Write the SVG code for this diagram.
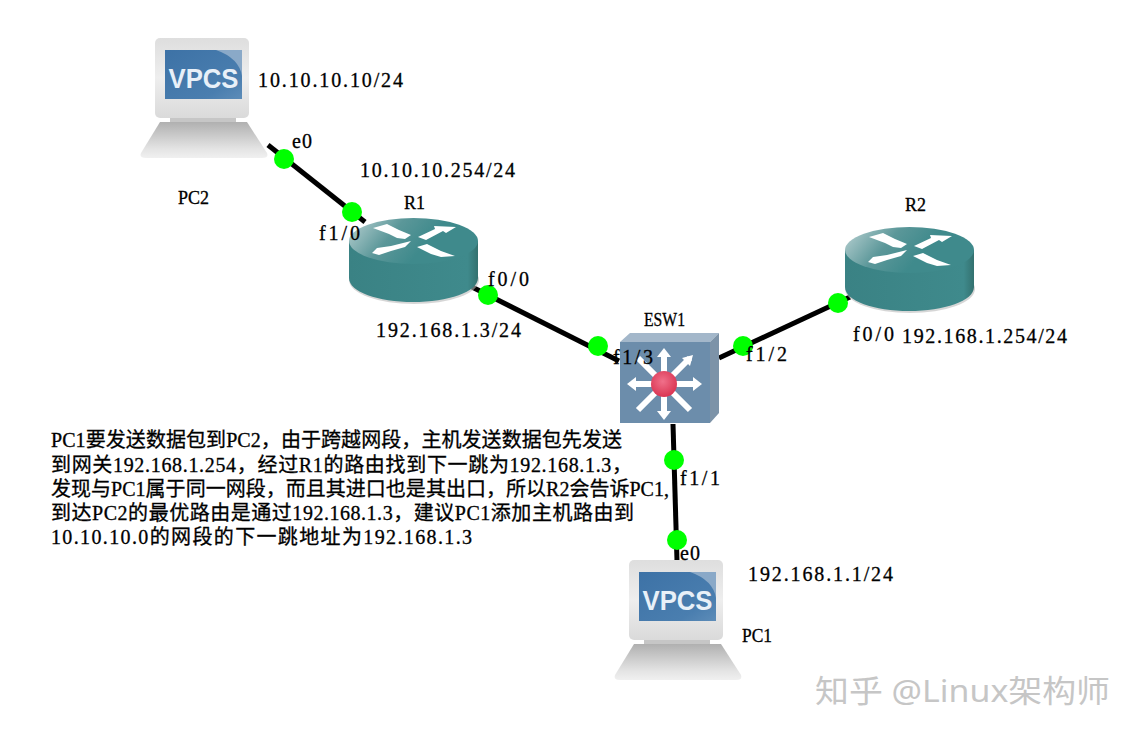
<svg xmlns="http://www.w3.org/2000/svg" width="1138" height="738" viewBox="0 0 1138 738">
<style>
text{font-family:"Liberation Serif","Noto Sans CJK SC",serif;fill:#000;font-size:20px;stroke:#000;stroke-width:0.3}
.n{font-size:18px}
.p{font-size:20px}
.link{stroke:#000;stroke-width:5;fill:none}
.dot{fill:#0f0}
.wm{font-family:"Noto Sans","Noto Sans CJK SC",sans-serif;font-size:31px;fill:#c6c6c6;stroke:none}
.vt{font-family:"Liberation Sans",sans-serif;font-weight:700;font-size:27px;fill:#e8f0f8;stroke:none}
</style>
<defs>
<linearGradient id="rt" x1="0" y1="0" x2="1" y2="0.3"><stop offset="0" stop-color="#bcd3d4"/><stop offset="0.4" stop-color="#5b9799"/><stop offset="0.7" stop-color="#3f8a8c"/><stop offset="1" stop-color="#3f8a8c"/></linearGradient>
<linearGradient id="rs" x1="0" y1="0" x2="1" y2="0"><stop offset="0" stop-color="#3a8284"/><stop offset="0.92" stop-color="#3f8a8c"/><stop offset="1" stop-color="#33716f"/></linearGradient>
<linearGradient id="mon" x1="0" y1="0" x2="0" y2="1"><stop offset="0" stop-color="#dedede"/><stop offset="0.5" stop-color="#eeeeee"/><stop offset="1" stop-color="#dadada"/></linearGradient>
<linearGradient id="base" x1="0" y1="0" x2="0" y2="1"><stop offset="0" stop-color="#b0b0b0"/><stop offset="0.75" stop-color="#e4e4e4"/><stop offset="1" stop-color="#f0f0f0"/></linearGradient>
<linearGradient id="scr" x1="0" y1="0" x2="1" y2="1"><stop offset="0" stop-color="#3d72a6"/><stop offset="0.75" stop-color="#4a7eaf"/><stop offset="1" stop-color="#5d8cb8"/></linearGradient>
<radialGradient id="red" cx="0.45" cy="0.4" r="0.65"><stop offset="0" stop-color="#f0708a"/><stop offset="1" stop-color="#d8304e"/></radialGradient>
<g id="router">
<ellipse cx="65" cy="62" rx="65" ry="24" fill="#bbb" opacity="0.6"/>
<path d="M0 23V60C0 74 29 84 64 84S129 74 129 60V23Z" fill="url(#rs)"/>
<ellipse cx="64.500" cy="23" rx="64.500" ry="23" fill="url(#rt)"/>
<g fill="#fff">
<path d="M24 10L38 6L50 12L62 17L56 21L48 20L40 16Z"/>
<path d="M69 19L86 11L85 8L107 9L97 15L94 13L77 22Z"/>
<path d="M23 35L28 30L42 28L62 23L56 29L42 33L30 37Z"/>
<path d="M68 29L78 26L92 33L106 38L92 39L82 36Z"/>
</g>
</g>
<g id="vpcs">
<rect x="30" y="78" width="66" height="8" fill="#c6c6c6"/>
<path d="M20 84H107L127 115Q129 120 122 120H6Q-1 120 1 115Z" fill="url(#base)"/>
<rect x="15" y="0" width="94" height="80" rx="5" fill="url(#mon)"/>
<rect x="25" y="12" width="77" height="49" fill="url(#scr)"/>
<path d="M76 12H102V38Q99 20 76 12Z" fill="#8aa9c8"/>
<text class="vt" x="63.500" y="50" text-anchor="middle" textLength="70" lengthAdjust="spacingAndGlyphs">VPCS</text>
</g>
</defs>
<rect width="1138" height="738" fill="#fff"/>
<g id="connectors">
<path class="link" d="M268 145L365 222"/>
<path class="link" d="M472 287L619 361"/>
<path class="link" d="M719 358L850 297"/>
<path class="link" d="M673 424L677 561"/>
</g>
<g id="PC2"><use href="#vpcs" x="140" y="38"/><text class="n" x="178" y="204" textLength="31" lengthAdjust="spacingAndGlyphs">PC2</text></g>
<g id="R1"><use href="#router" x="349" y="218"/><text class="n" x="404" y="209" textLength="21" lengthAdjust="spacingAndGlyphs">R1</text></g>
<g id="R2"><use href="#router" x="845" y="227"/><text class="n" x="905" y="211" textLength="21" lengthAdjust="spacingAndGlyphs">R2</text></g>
<g id="ESW1">
<path d="M620 342L630 333H719L710 342Z" fill="#a3b7ca"/>
<path d="M710 342L719 333V413L710 423Z" fill="#7d93a8"/>
<rect x="620" y="342" width="90" height="81" fill="#6c8dab"/>
<path d="M664 384V354M664 384V414M664 384H634M664 384H696M664 384L638 358M664 384L690 358M664 384L638 410M664 384L690 410" stroke="#fff" stroke-width="6" fill="none"/>
<g fill="#fff">
<path d="M664 348L671 357H657Z"/><path d="M664 420L671 411H657Z"/><path d="M627 384L636 377V391Z"/><path d="M702 384L693 377V391Z"/><path d="M693 355L690 366L682 358Z"/>
</g>
<circle cx="664" cy="384" r="13" fill="url(#red)"/>
<text class="n" x="644" y="326" textLength="41" lengthAdjust="spacingAndGlyphs">ESW1</text>
</g>
<g id="PC1"><use href="#vpcs" x="614" y="560"/><text class="n" x="742" y="642" textLength="30" lengthAdjust="spacingAndGlyphs">PC1</text></g>
<g id="ports">
<circle class="dot" cx="284" cy="159" r="10"/><circle class="dot" cx="352" cy="212" r="10"/>
<circle class="dot" cx="488" cy="295" r="10"/><circle class="dot" cx="598" cy="346" r="10"/>
<circle class="dot" cx="743" cy="346" r="10"/><circle class="dot" cx="838" cy="303" r="10"/>
<circle class="dot" cx="674" cy="460" r="10"/><circle class="dot" cx="677" cy="540" r="10"/>
</g>
<g id="labels">
<text x="258" y="87" textLength="145">10.10.10.10/24</text>
<text x="292" y="148" textLength="20">e0</text>
<text x="360" y="177" textLength="155">10.10.10.254/24</text>
<text x="319" y="240" textLength="41">f1/0</text>
<text x="488" y="286" textLength="41">f0/0</text>
<text x="376" y="337" textLength="145">192.168.1.3/24</text>
<text x="613" y="364" textLength="40">f1/3</text>
<text x="746" y="361" textLength="41">f1/2</text>
<text x="853" y="341" textLength="41">f0/0</text>
<text x="902" y="343" textLength="165">192.168.1.254/24</text>
<text x="680" y="485" textLength="40">f1/1</text>
<text x="680" y="560" textLength="20">e0</text>
<text x="748" y="581" textLength="145">192.168.1.1/24</text>
</g>
<g id="note">
<text class="p" x="51" y="447" textLength="571">PC1要发送数据包到PC2，由于跨越网段，主机发送数据包先发送</text>
<text class="p" x="51" y="472" textLength="581">到网关192.168.1.254，经过R1的路由找到下一跳为192.168.1.3，</text>
<text class="p" x="51" y="496" textLength="618">发现与PC1属于同一网段，而且其进口也是其出口，所以R2会告诉PC1,</text>
<text class="p" x="51" y="520" textLength="583">到达PC2的最优路由是通过192.168.1.3，建议PC1添加主机路由到</text>
<text class="p" x="51" y="544" textLength="421">10.10.10.0的网段的下一跳地址为192.168.1.3</text>
</g>
<text class="wm" x="815" y="702" textLength="295" lengthAdjust="spacingAndGlyphs">知乎 @Linux架构师</text>
</svg>
